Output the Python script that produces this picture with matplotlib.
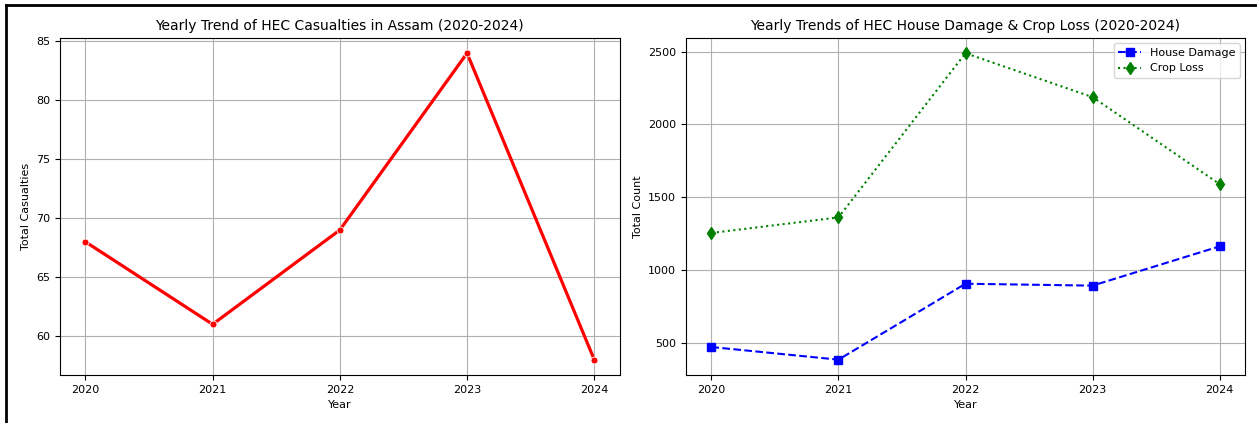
import matplotlib
matplotlib.use("Agg")
import matplotlib.pyplot as plt
from matplotlib.lines import Line2D

# data
years = [2020, 2021, 2022, 2023, 2024]
casualties = [68, 61, 69, 84, 58]
house_damage = [470, 383, 905, 892, 1162]
crop_loss = [1254, 1361, 2490, 2188, 1590]

fig = plt.figure(figsize=(12.57, 4.23), dpi=100)

# left panel: casualties
ax1 = fig.add_axes([0.0477, 0.1135, 0.4453, 0.797])
ax1.plot(years, casualties, color="red", linewidth=2.3, marker="o",
         markersize=5, markeredgecolor="white", markeredgewidth=0.6)
ax1.set_title("Yearly Trend of HEC Casualties in Assam (2020-2024)", fontsize=10)
ax1.set_xlabel("Year", fontsize=8)
ax1.set_ylabel("Total Casualties", fontsize=8)
ax1.set_xticks(years)
ax1.tick_params(labelsize=8)
ax1.grid(True)

# right panel: house damage and crop loss
ax2 = fig.add_axes([0.5457, 0.1135, 0.4448, 0.797])
ax2.plot(years, house_damage, "b--s", markersize=6, label="House Damage")
ax2.plot(years, crop_loss, "g:d", markersize=6, label="Crop Loss")
ax2.set_title("Yearly Trends of HEC House Damage & Crop Loss (2020-2024)", fontsize=10)
ax2.set_xlabel("Year", fontsize=8)
ax2.set_ylabel("Total Count", fontsize=8)
ax2.set_xticks(years)
ax2.tick_params(labelsize=8)
ax2.legend(fontsize=8, loc="upper right")
ax2.grid(True)

# black frame at top and left, as in the screenshot
fig.add_artist(Line2D([0.0048, 1.0], [0.988, 0.988], color="black", linewidth=2,
                      transform=fig.transFigure))
fig.add_artist(Line2D([0.0048, 0.0048], [0.0, 0.988], color="black", linewidth=2,
                      transform=fig.transFigure))

fig.savefig("out.png", dpi=100)
